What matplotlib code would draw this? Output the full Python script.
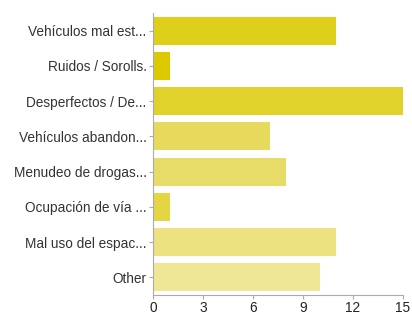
import matplotlib
matplotlib.use("Agg")
import matplotlib.pyplot as plt

categories = ["Vehículos mal est...", "Ruidos / Sorolls.", "Desperfectos / De...",
              "Vehículos abandon...", "Menudeo de drogas...", "Ocupación de vía ...",
              "Mal uso del espac...", "Other"]
values = [11, 1, 15, 7, 8, 1, 11, 10]
colors = ["#DECF1A", "#DCC900", "#E1D22B", "#E6D95B", "#E8DC68", "#E4D543",
          "#ECE27F", "#EFE795"]
xticks = [0, 3, 6, 9, 12, 15]

plt.rcParams['font.family'] = ['Liberation Sans', 'DejaVu Sans']
fig = plt.figure(figsize=(4.12, 3.14), dpi=100)
ax = fig.add_axes([153/412, 19/314, 250/412, 282/314])
y = list(range(len(categories)))
ax.barh(y, values, height=0.8, color=colors)
ax.set_ylim(len(categories) - 0.5, -0.5)
ax.set_xlim(0, 15)
ax.set_yticks(y)
ax.set_yticklabels(categories, fontsize=9.8, color="#333333")
ax.set_xticks(xticks)
ax.set_xticklabels([str(t) for t in xticks], fontsize=9.8, color="#222222")
for s in ["top", "right"]:
    ax.spines[s].set_visible(False)
for s in ["left", "bottom"]:
    ax.spines[s].set_color("#AAAAAA")
    ax.spines[s].set_linewidth(0.8)
ax.tick_params(axis="y", length=3, width=0.8, color="#AAAAAA", pad=1.5)
ax.tick_params(axis="x", length=3, width=0.8, color="#AAAAAA", pad=1)
fig.savefig("out.png", dpi=100)
